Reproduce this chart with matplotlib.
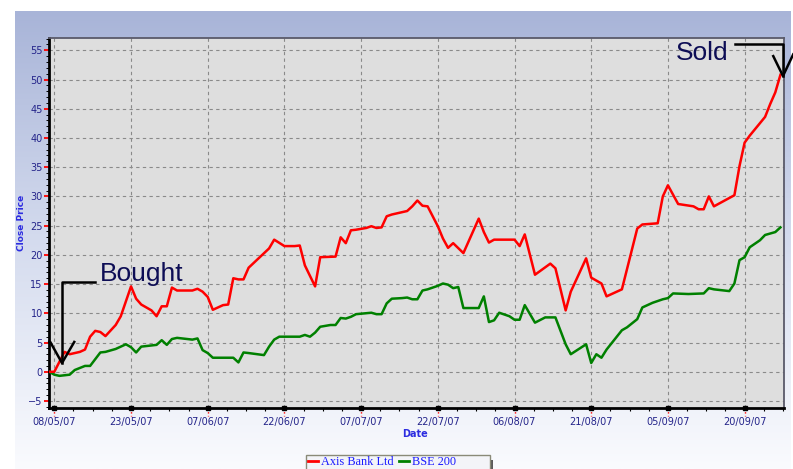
import numpy as np
import pandas as pd
import matplotlib
matplotlib.use('Agg')
from matplotlib import pyplot as plt
import matplotlib.dates as mdates
from matplotlib.colors import LinearSegmentedColormap
from matplotlib.patches import Rectangle
from matplotlib.lines import Line2D

# Axis Bank Ltd close price change
red_dates = ['07/05/07', '08/05/07', '10/05/07', '11/05/07', '13/05/07', '14/05/07', '15/05/07',
             '16/05/07', '17/05/07', '18/05/07', '20/05/07', '21/05/07', '23/05/07', '24/05/07',
             '25/05/07', '27/05/07', '28/05/07', '29/05/07', '30/05/07', '31/05/07',
             '01/06/07', '04/06/07', '05/06/07', '06/06/07', '07/06/07', '08/06/07', '10/06/07',
             '11/06/07', '12/06/07', '13/06/07', '14/06/07', '15/06/07', '19/06/07', '20/06/07',
             '22/06/07', '24/06/07', '25/06/07', '26/06/07', '28/06/07', '29/06/07',
             '02/07/07', '03/07/07', '04/07/07', '05/07/07', '06/07/07', '08/07/07', '09/07/07',
             '10/07/07', '11/07/07', '12/07/07', '13/07/07', '14/07/07', '16/07/07', '17/07/07',
             '18/07/07', '19/07/07', '20/07/07', '22/07/07', '23/07/07', '24/07/07', '25/07/07',
             '27/07/07', '30/07/07', '31/07/07',
             '01/08/07', '02/08/07', '06/08/07', '07/08/07', '08/08/07', '10/08/07', '13/08/07',
             '14/08/07', '16/08/07', '17/08/07', '20/08/07', '21/08/07', '22/08/07', '23/08/07',
             '24/08/07', '27/08/07', '30/08/07', '31/08/07',
             '03/09/07', '04/09/07', '05/09/07', '07/09/07', '10/09/07', '11/09/07', '12/09/07',
             '13/09/07', '14/09/07', '18/09/07', '19/09/07', '20/09/07', '21/09/07', '24/09/07',
             '25/09/07', '26/09/07', '27/09/07']
red_close = [0.0, 0.0, 3.4, 3.0, 3.4, 3.8, 6.0,
             7.0, 6.8, 6.1, 8.0, 9.5, 14.6, 12.5,
             11.5, 10.5, 9.5, 11.2, 11.2, 14.4,
             13.9, 13.9, 14.2, 13.7, 12.8, 10.6, 11.4,
             11.5, 16.0, 15.8, 15.8, 17.8, 21.1, 22.6,
             21.5, 21.5, 21.6, 18.2, 14.6, 19.6,
             19.7, 23.0, 22.0, 24.2, 24.3, 24.6, 24.9,
             24.6, 24.7, 26.6, 26.9, 27.1, 27.5, 28.3,
             29.3, 28.4, 28.3, 24.9, 22.8, 21.2, 22.0,
             20.3, 26.2, 23.9,
             22.1, 22.6, 22.6, 21.5, 23.5, 16.6, 18.5,
             17.7, 10.5, 13.7, 19.4, 16.1, 15.6, 15.1,
             12.9, 14.1, 24.5, 25.2,
             25.4, 30.0, 31.9, 28.7, 28.3, 27.8, 27.8,
             30.0, 28.3, 30.2, 35.2, 39.2, 40.4, 43.6,
             45.8, 47.8, 50.8]

# BSE 200
green_dates = ['07/05/07', '08/05/07', '09/05/07', '11/05/07', '12/05/07', '14/05/07', '15/05/07',
               '17/05/07', '18/05/07', '20/05/07', '22/05/07', '23/05/07', '24/05/07', '25/05/07',
               '28/05/07', '29/05/07', '30/05/07', '31/05/07',
               '01/06/07', '03/06/07', '04/06/07', '05/06/07', '06/06/07', '07/06/07', '08/06/07',
               '12/06/07', '13/06/07', '14/06/07', '15/06/07', '18/06/07', '19/06/07', '20/06/07',
               '21/06/07', '25/06/07', '26/06/07', '27/06/07', '28/06/07', '29/06/07',
               '01/07/07', '02/07/07', '03/07/07', '04/07/07', '05/07/07', '06/07/07', '09/07/07',
               '10/07/07', '11/07/07', '12/07/07', '13/07/07', '15/07/07', '16/07/07', '17/07/07',
               '18/07/07', '19/07/07', '20/07/07', '22/07/07', '23/07/07', '24/07/07', '25/07/07',
               '26/07/07', '27/07/07', '30/07/07', '31/07/07',
               '01/08/07', '02/08/07', '03/08/07', '05/08/07', '06/08/07', '07/08/07', '08/08/07',
               '10/08/07', '12/08/07', '14/08/07', '16/08/07', '17/08/07', '20/08/07', '21/08/07',
               '22/08/07', '23/08/07', '24/08/07', '27/08/07', '28/08/07', '30/08/07', '31/08/07',
               '02/09/07', '04/09/07', '05/09/07', '06/09/07', '09/09/07', '12/09/07', '13/09/07',
               '14/09/07', '17/09/07', '18/09/07', '19/09/07', '20/09/07', '21/09/07', '23/09/07',
               '24/09/07', '26/09/07', '27/09/07']
green_close = [0.0, -0.5, -0.7, -0.5, 0.3, 1.0, 1.0,
               3.3, 3.4, 3.9, 4.7, 4.2, 3.3, 4.3,
               4.6, 5.4, 4.6, 5.6,
               5.8, 5.6, 5.5, 5.7, 3.7, 3.2, 2.4,
               2.4, 1.6, 3.3, 3.2, 2.85, 4.3, 5.5,
               6.0, 6.0, 6.3, 6.0, 6.7, 7.7,
               8.0, 8.0, 9.2, 9.1, 9.4, 9.85, 10.1,
               9.85, 9.85, 11.7, 12.5, 12.6, 12.7, 12.4,
               12.4, 13.9, 14.1, 14.7, 15.1, 14.9, 14.3,
               14.5, 10.9, 10.9, 12.9,
               8.5, 8.8, 10.1, 9.5, 8.9, 8.9, 11.4,
               8.4, 9.3, 9.3, 4.7, 3.0, 4.7, 1.5,
               3.0, 2.4, 3.8, 7.1, 7.6, 9.0, 11.0,
               11.8, 12.4, 12.6, 13.4, 13.3, 13.4, 14.3,
               14.1, 13.8, 15.1, 19.1, 19.6, 21.3, 22.5,
               23.4, 23.9, 24.7]

series_names = ['Axis Bank Ltd', 'BSE 200']
first_tick = '08/05/07'

# annotation brackets: (days after first tick, price)
bought_days = [7.9, 1.5, 1.5]
bought_price = [15.3, 15.3, 1.5]
bought_head_days = [-1.0, -0.8, 1.5, 3.9]
bought_head_price = [5.1, 5.1, 1.5, 5.1]
sold_days = [133.1, 142.5, 142.5]
sold_price = [56.1, 56.1, 50.6]
sold_head_days = [140.6, 142.5, 144.5]
sold_head_price = [54.0, 50.6, 54.3]

W, H = 793, 469
fig = plt.figure(figsize=(W / 100, H / 100), dpi=100)
fig.patch.set_facecolor('white')

# gradient panel behind the chart
bg = fig.add_axes([15 / W, 0, 776 / W, 458 / H], zorder=0)
cmap = LinearSegmentedColormap.from_list('panel', ['#a8b4d8', '#d4dbee', '#fafbfe'])
bg.imshow(np.linspace(0, 1, 256)[:, None], aspect='auto', cmap=cmap, extent=[0, 1, 0, 1])
bg.axis('off')

ax = fig.add_axes([49 / W, 61 / H, 735 / W, 370 / H], zorder=1)
ax.set_facecolor('#dedede')

t0 = pd.to_datetime(first_tick, format='%d/%m/%y')
n0 = mdates.date2num(t0)
red_x = pd.to_datetime(red_dates, format='%d/%m/%y')
green_x = pd.to_datetime(green_dates, format='%d/%m/%y')

l1, = ax.plot(red_x, red_close, color='#ff0000', lw=1.8, zorder=4)
l2, = ax.plot(green_x, green_close, color='#008000', lw=1.8, zorder=3)

major = n0 + 15 * np.arange(10)
ax.set_xticks(major)
ax.set_xticks(n0 + 3.75 * np.arange(0, 39), minor=True)
ax.xaxis.set_major_formatter(mdates.DateFormatter('%d/%m/%y'))
ax.set_yticks(np.arange(-5, 56, 5))
ax.yaxis.set_minor_locator(plt.MultipleLocator(1))

ax.set_ylim(-6.2, 57.1)

tick_col = '#24248a'
ax.tick_params(axis='x', which='major', length=0, pad=6.5, labelsize=7, labelcolor=tick_col)
ax.tick_params(axis='x', which='minor', length=2.5, width=0.8, color='black')
ax.tick_params(axis='y', which='major', length=3.5, width=1.3, color='#ff0000', pad=1,
               labelsize=7, labelcolor=tick_col)
ax.tick_params(axis='y', which='minor', length=2, width=0.7, color='black')

ax.grid(True, which='major', color='#8a8a8a', linestyle=(0, (3, 3)), linewidth=0.8)
ax.set_axisbelow(True)

for s in ['left', 'bottom']:
    ax.spines[s].set_color('black')
    ax.spines[s].set_linewidth(2)
for s in ['top', 'right']:
    ax.spines[s].set_color('#5a5a6a')
    ax.spines[s].set_linewidth(1.3)

# red dotted stubs under the date ticks, black dots on the axis
xtr = ax.get_xaxis_transform()
for t in major:
    ax.plot([t, t], [0, -0.022], transform=xtr, color='#ff0000', ls=':', lw=1, clip_on=False)
ax.plot(major, np.zeros(len(major)), transform=xtr, ls='none', marker='s', ms=2.2,
        color='black', clip_on=False, zorder=6)

# Bought / Sold markers
ax.plot(n0 + np.array(bought_days), bought_price, color='black', lw=1.8, clip_on=False, zorder=5)
ax.plot(n0 + np.array(bought_head_days), bought_head_price, color='black', lw=1.8,
        clip_on=False, zorder=5)
ax.plot(n0 + np.array(sold_days), sold_price, color='black', lw=1.8, clip_on=False, zorder=5)
ax.plot(n0 + np.array(sold_head_days), sold_head_price, color='black', lw=1.8,
        clip_on=False, zorder=5)
ax.text(n0 + 9.0, 15.5, 'Bought', family='Liberation Sans', fontsize=19, color='#0d0d55',
        va='baseline', zorder=6)
ax.text(n0 + 121.6, 53.3, 'Sold', family='Liberation Sans', fontsize=19, color='#0d0d55',
        va='baseline', zorder=6)

# set last, after everything that could widen the view
ax.set_xlim(n0 - 1.04, n0 + 142.7)

lab_col = '#2c2ce0'
fig.text(21 / W, 1 - 223 / H, 'Close Price', rotation=90, ha='center', va='center',
         fontsize=6.5, fontweight='bold', color=lab_col)
fig.text(415 / W, 1 - 434 / H, 'Date', ha='center', va='center',
         fontsize=7, fontweight='bold', color=lab_col)

# legend box at the bottom
fig.add_artist(Rectangle((489 / W, -0.01), 4 / W, 14 / H, transform=fig.transFigure,
                         fc='#5a5a5a', ec='none', zorder=2))
fig.add_artist(Rectangle((305.7 / W, -0.01), 184 / W, (14 + 0.01 * H) / H,
                         transform=fig.transFigure, fc='#f3f4f8', ec='#8a8a78', lw=1, zorder=3))
h1 = Line2D([], [], color='#ff0000', lw=2)
h2 = Line2D([], [], color='#008000', lw=2)
leg = fig.legend([h1, h2], series_names, loc='upper left', bbox_to_anchor=(308 / W, 1 - 456 / H),
                 ncol=2, frameon=False, handlelength=0.8, handletextpad=0.3, columnspacing=0.4,
                 borderpad=0, borderaxespad=0,
                 prop={'family': 'Liberation Serif', 'size': 8.8})
leg.set_zorder(4)
for txt in leg.get_texts():
    txt.set_color('#1a1aff')

fig.savefig('out.png', dpi=100)
